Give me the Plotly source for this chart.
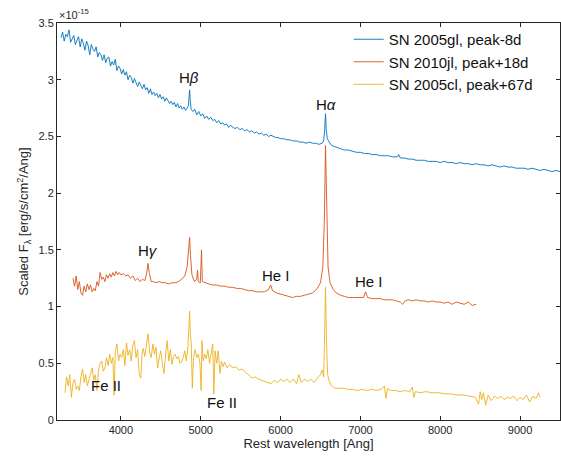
import plotly.graph_objects as go

# SN 2005gl, peak-8d  (lunghezza d'onda, flusso in unità di 1e-15)
gl = [(3250, 3.37), (3270, 3.42), (3290, 3.34), (3310, 3.40), (3330, 3.38), (3350, 3.44),
      (3370, 3.33), (3390, 3.36), (3410, 3.39), (3430, 3.31), (3450, 3.35), (3470, 3.38),
      (3490, 3.29), (3510, 3.36), (3530, 3.32), (3550, 3.26), (3570, 3.34), (3590, 3.30),
      (3610, 3.22), (3630, 3.31), (3650, 3.27), (3670, 3.25), (3690, 3.29), (3710, 3.20),
      (3730, 3.24), (3750, 3.22), (3770, 3.17), (3790, 3.22), (3810, 3.15), (3830, 3.19),
      (3850, 3.20), (3870, 3.12), (3890, 3.16), (3910, 3.13), (3930, 3.18), (3950, 3.08),
      (3970, 3.12), (3990, 3.10), (4010, 3.05), (4030, 3.09), (4050, 3.04), (4070, 3.07),
      (4090, 3.00), (4110, 3.04), (4130, 3.02), (4150, 2.97), (4170, 3.01), (4190, 2.98),
      (4210, 2.94), (4230, 2.98), (4250, 2.95), (4270, 2.92), (4290, 2.96), (4310, 2.91),
      (4330, 2.93), (4350, 2.88), (4370, 2.92), (4390, 2.87), (4410, 2.89), (4430, 2.86),
      (4450, 2.88), (4470, 2.84), (4490, 2.87), (4510, 2.83), (4530, 2.85), (4550, 2.81),
      (4570, 2.84), (4590, 2.82), (4610, 2.79), (4630, 2.81), (4650, 2.78), (4670, 2.80),
      (4690, 2.76), (4710, 2.79), (4730, 2.75), (4750, 2.77), (4770, 2.74), (4790, 2.76),
      (4810, 2.73), (4830, 2.75), (4845, 2.77), (4855, 2.85), (4861, 2.91), (4868, 2.82),
      (4880, 2.74), (4900, 2.72), (4925, 2.74), (4950, 2.69), (4975, 2.72), (5000, 2.68),
      (5025, 2.70), (5050, 2.66), (5075, 2.68), (5100, 2.65), (5125, 2.67), (5150, 2.64),
      (5175, 2.65), (5200, 2.62), (5225, 2.64), (5250, 2.61), (5275, 2.62), (5300, 2.60),
      (5325, 2.61), (5350, 2.58), (5375, 2.60), (5400, 2.58), (5430, 2.57), (5460, 2.58),
      (5490, 2.56), (5520, 2.57), (5550, 2.55), (5580, 2.56), (5610, 2.54), (5640, 2.55),
      (5670, 2.53), (5700, 2.54), (5730, 2.52), (5760, 2.53), (5790, 2.51), (5820, 2.52),
      (5850, 2.50), (5880, 2.51), (5910, 2.50), (5940, 2.49), (5970, 2.49), (6000, 2.48),
      (6040, 2.48), (6080, 2.47), (6120, 2.47), (6160, 2.46), (6200, 2.46), (6240, 2.45),
      (6280, 2.45), (6320, 2.44), (6360, 2.45), (6400, 2.44), (6440, 2.44), (6480, 2.43),
      (6520, 2.44), (6540, 2.46), (6553, 2.56), (6563, 2.70), (6572, 2.56), (6585, 2.48),
      (6610, 2.45), (6640, 2.42), (6680, 2.41), (6720, 2.40), (6760, 2.39), (6800, 2.38),
      (6850, 2.38), (6900, 2.37), (6950, 2.36), (7000, 2.36), (7050, 2.35), (7100, 2.35),
      (7150, 2.34), (7200, 2.34), (7250, 2.33), (7300, 2.33), (7350, 2.33), (7400, 2.32),
      (7460, 2.32), (7480, 2.34), (7500, 2.31), (7550, 2.31), (7600, 2.30), (7650, 2.30),
      (7700, 2.29), (7750, 2.29), (7800, 2.29), (7850, 2.28), (7900, 2.28), (7950, 2.28),
      (8000, 2.27), (8050, 2.28), (8100, 2.27), (8150, 2.27), (8200, 2.26), (8250, 2.27),
      (8300, 2.26), (8350, 2.26), (8400, 2.25), (8450, 2.26), (8500, 2.25), (8550, 2.25),
      (8600, 2.24), (8650, 2.25), (8700, 2.24), (8750, 2.23), (8800, 2.24), (8850, 2.23),
      (8900, 2.23), (8950, 2.22), (9000, 2.22), (9050, 2.22), (9100, 2.21), (9150, 2.22),
      (9200, 2.21), (9250, 2.20), (9300, 2.21), (9350, 2.20), (9400, 2.19), (9450, 2.20),
      (9500, 2.19)]

# SN 2010jl, peak+18d
wl_jl = [3400, 3420, 3440, 3460, 3480, 3500, 3520, 3540, 3560, 3580, 3600, 3620, 3640, 3660,
         3680, 3700, 3720, 3740, 3760, 3780, 3800, 3820, 3840, 3860, 3880, 3900, 3920, 3940,
         3960, 3980, 4000, 4030, 4060, 4090, 4120, 4150, 4180, 4210, 4240, 4270, 4300, 4320,
         4340, 4355, 4380, 4410, 4440, 4480, 4520, 4560, 4600, 4640, 4680, 4720, 4760, 4800,
         4830, 4850, 4861, 4872, 4890, 4920, 4950, 4960, 4970, 4995, 5010, 5020, 5050, 5100,
         5150, 5200, 5250, 5300, 5350, 5400, 5450, 5500, 5550, 5600, 5650, 5700, 5750, 5800,
         5850, 5876, 5900, 5950, 6000, 6050, 6100, 6150, 6200, 6250, 6300, 6350, 6400, 6450,
         6500, 6530, 6548, 6563, 6578, 6595, 6620, 6660, 6700, 6750, 6800, 6850, 6900, 6950,
         7000, 7040, 7065, 7090, 7150, 7200, 7250, 7300, 7350, 7400, 7450, 7500, 7530, 7560,
         7600, 7650, 7700, 7750, 7800, 7850, 7900, 7950, 8000, 8050, 8100, 8150, 8200, 8250,
         8300, 8350, 8400, 8450]
fl_jl = [1.25, 1.18, 1.27, 1.15, 1.22, 1.12, 1.10, 1.18, 1.13, 1.20, 1.15, 1.19, 1.13, 1.16,
         1.14, 1.22, 1.18, 1.30, 1.24, 1.26, 1.22, 1.28, 1.25, 1.29, 1.26, 1.30, 1.27, 1.31,
         1.28, 1.30, 1.28, 1.29, 1.27, 1.28, 1.25, 1.27, 1.23, 1.25, 1.22, 1.24, 1.23, 1.28,
         1.38, 1.30, 1.22, 1.22, 1.21, 1.22, 1.21, 1.21, 1.20, 1.21, 1.21, 1.22, 1.24, 1.27,
         1.35, 1.50, 1.61, 1.45, 1.28, 1.22, 1.24, 1.32, 1.22, 1.21, 1.50, 1.22, 1.21, 1.20,
         1.19, 1.19, 1.18, 1.18, 1.17, 1.17, 1.16, 1.16, 1.15, 1.14, 1.14, 1.13, 1.13, 1.13,
         1.15, 1.19, 1.14, 1.12, 1.11, 1.10, 1.09, 1.08, 1.09, 1.09, 1.10, 1.11, 1.12, 1.15,
         1.21, 1.35, 1.75, 2.42, 1.75, 1.35, 1.21, 1.15, 1.12, 1.10, 1.09, 1.08, 1.08, 1.08,
         1.08, 1.08, 1.13, 1.08, 1.07, 1.07, 1.07, 1.06, 1.06, 1.06, 1.05, 1.04, 1.02, 1.05,
         1.06, 1.05, 1.06, 1.05, 1.05, 1.04, 1.05, 1.04, 1.04, 1.03, 1.04, 1.02, 1.04, 1.03,
         1.02, 1.04, 1.01, 1.02]

# SN 2005cl, peak+67d
wl_cl = [3300, 3320, 3340, 3360, 3380, 3400, 3420, 3440, 3460, 3480, 3500, 3520, 3540, 3560,
         3580, 3600, 3620, 3640, 3660, 3680, 3700, 3720, 3740, 3760, 3780, 3800, 3820, 3840,
         3860, 3880, 3900, 3915, 3930, 3950, 3970, 3990, 4010, 4030, 4050, 4070, 4090, 4110,
         4130, 4150, 4170, 4190, 4210, 4230, 4250, 4265, 4280, 4300, 4320, 4340, 4360, 4380,
         4400, 4420, 4440, 4460, 4480, 4500, 4520, 4540, 4560, 4580, 4600, 4620, 4640, 4660,
         4680, 4700, 4720, 4740, 4760, 4780, 4800, 4820, 4840, 4855, 4861, 4870, 4880, 4895,
         4910, 4930, 4950, 4970, 4990, 5005, 5015, 5030, 5050, 5070, 5090, 5110, 5130, 5150,
         5165, 5180, 5200, 5220, 5240, 5260, 5280, 5300, 5330, 5360, 5400, 5440, 5480, 5520,
         5560, 5600, 5640, 5680, 5720, 5760, 5800, 5840, 5880, 5920, 5960, 6000, 6040, 6080,
         6120, 6160, 6200, 6230, 6260, 6300, 6340, 6380, 6420, 6460, 6500, 6520, 6540, 6550,
         6563, 6575, 6590, 6610, 6640, 6680, 6720, 6780, 6840, 6900, 6960, 7020, 7080, 7140,
         7200, 7260, 7300, 7320, 7340, 7380, 7440, 7500, 7560, 7620, 7650, 7670, 7690, 7750,
         7820, 7900, 7980, 8060, 8140, 8220, 8300, 8380, 8440, 8480, 8500, 8520, 8540, 8570,
         8600, 8640, 8680, 8720, 8760, 8800, 8840, 8880, 8920, 8960, 9000, 9040, 9080, 9120,
         9160, 9200, 9230, 9250]
fl_cl = [0.24, 0.38, 0.30, 0.40, 0.20, 0.33, 0.36, 0.27, 0.30, 0.26, 0.38, 0.45, 0.33, 0.40,
         0.30, 0.36, 0.42, 0.46, 0.35, 0.40, 0.26, 0.44, 0.50, 0.52, 0.43, 0.46, 0.55, 0.48,
         0.58, 0.50, 0.55, 0.22, 0.60, 0.67, 0.52, 0.58, 0.55, 0.62, 0.48, 0.68, 0.57, 0.62,
         0.52, 0.66, 0.70, 0.55, 0.62, 0.40, 0.37, 0.58, 0.63, 0.56, 0.66, 0.76, 0.60, 0.55,
         0.67, 0.58, 0.64, 0.46, 0.55, 0.61, 0.50, 0.41, 0.58, 0.70, 0.52, 0.62, 0.49, 0.56,
         0.58, 0.54, 0.56, 0.50, 0.51, 0.55, 0.61, 0.52, 0.65, 0.85, 0.96, 0.75, 0.70, 0.28,
         0.55, 0.62, 0.55, 0.58, 0.50, 0.26, 0.70, 0.52, 0.58, 0.54, 0.62, 0.50, 0.58, 0.67,
         0.23, 0.61, 0.50, 0.61, 0.41, 0.52, 0.47, 0.51, 0.46, 0.49, 0.46, 0.47, 0.44, 0.45,
         0.42, 0.40, 0.37, 0.38, 0.36, 0.35, 0.34, 0.33, 0.32, 0.35, 0.33, 0.36, 0.34, 0.36,
         0.33, 0.36, 0.32, 0.40, 0.33, 0.36, 0.34, 0.36, 0.33, 0.37, 0.40, 0.44, 0.38, 0.70,
         1.17, 0.70, 0.40, 0.34, 0.30, 0.28, 0.28, 0.28, 0.27, 0.27, 0.26, 0.27, 0.26, 0.27,
         0.26, 0.27, 0.30, 0.19, 0.28, 0.26, 0.26, 0.25, 0.26, 0.25, 0.29, 0.20, 0.25, 0.24,
         0.25, 0.24, 0.24, 0.23, 0.23, 0.22, 0.22, 0.21, 0.20, 0.14, 0.25, 0.18, 0.24, 0.13,
         0.22, 0.17, 0.21, 0.19, 0.21, 0.18, 0.20, 0.19, 0.21, 0.17, 0.20, 0.18, 0.22, 0.16,
         0.21, 0.19, 0.24, 0.20]

# Etichette delle righe
righe_testo = ["H<i>β</i>", "H<i>α</i>", "H<i>γ</i>", "He I", "He I", "Fe II", "Fe II"]
righe_x = [4856, 6565, 4340, 5940, 7110, 3810, 5270]
righe_y = [3.02, 2.78, 1.49, 1.27, 1.22, 0.30, 0.15]

wl_gl = [p[0] for p in gl]
fl_gl = [p[1] for p in gl]

fig = go.Figure()
fig.add_trace(go.Scatter(x=wl_gl, y=fl_gl, mode="lines", name="SN 2005gl, peak-8d",
                         line=dict(color="#0072BD", width=0.9)))
fig.add_trace(go.Scatter(x=wl_jl, y=fl_jl, mode="lines", name="SN 2010jl, peak+18d",
                         line=dict(color="#D95319", width=0.9)))
fig.add_trace(go.Scatter(x=wl_cl, y=fl_cl, mode="lines", name="SN 2005cl, peak+67d",
                         line=dict(color="#EDB120", width=0.9)))

for t, x, y in zip(righe_testo, righe_x, righe_y):
    fig.add_annotation(x=x, y=y, text=t, showarrow=False,
                       font=dict(family="Liberation Sans, Arial", size=15, color="#111111"))

fig.add_annotation(x=0, y=1, xref="paper", yref="paper", xanchor="left", yanchor="bottom",
                   text="×10<sup>-15</sup>", showarrow=False,
                   font=dict(family="Liberation Sans, Arial", size=11, color="#262626"))

asse = dict(showgrid=False, zeroline=False, showline=True, linecolor="#262626", linewidth=1,
            mirror="ticks", ticks="inside", ticklen=4, tickcolor="#262626", automargin=False,
            tickfont=dict(family="Liberation Sans, Arial", size=11, color="#262626"))

fig.update_layout(
    width=561, height=458,
    margin=dict(l=57, r=1, t=23, b=38),
    paper_bgcolor="white", plot_bgcolor="white",
    font=dict(family="Liberation Sans, Arial", color="#262626"),
    xaxis=dict(range=[3200, 9500], tickvals=[4000, 5000, 6000, 7000, 8000, 9000],
               title=dict(text="Rest wavelength [Ang]", font=dict(size=13), standoff=2), **asse),
    yaxis=dict(range=[0, 3.5], dtick=0.5,
               title=dict(text="Scaled F<sub>λ</sub> [erg/s/cm<sup>2</sup>/Ang]",
                          font=dict(size=13), standoff=6), **asse),
    legend=dict(x=0.58, y=1.0, xanchor="left", yanchor="top", bgcolor="rgba(255,255,255,0)",
                font=dict(family="Liberation Sans, Arial", size=15, color="#111111"),
                tracegroupgap=0),
    showlegend=True,
)

fig.write_html("out.html", config={"displayModeBar": False},
               post_script="document.body.style.margin='0px';")
